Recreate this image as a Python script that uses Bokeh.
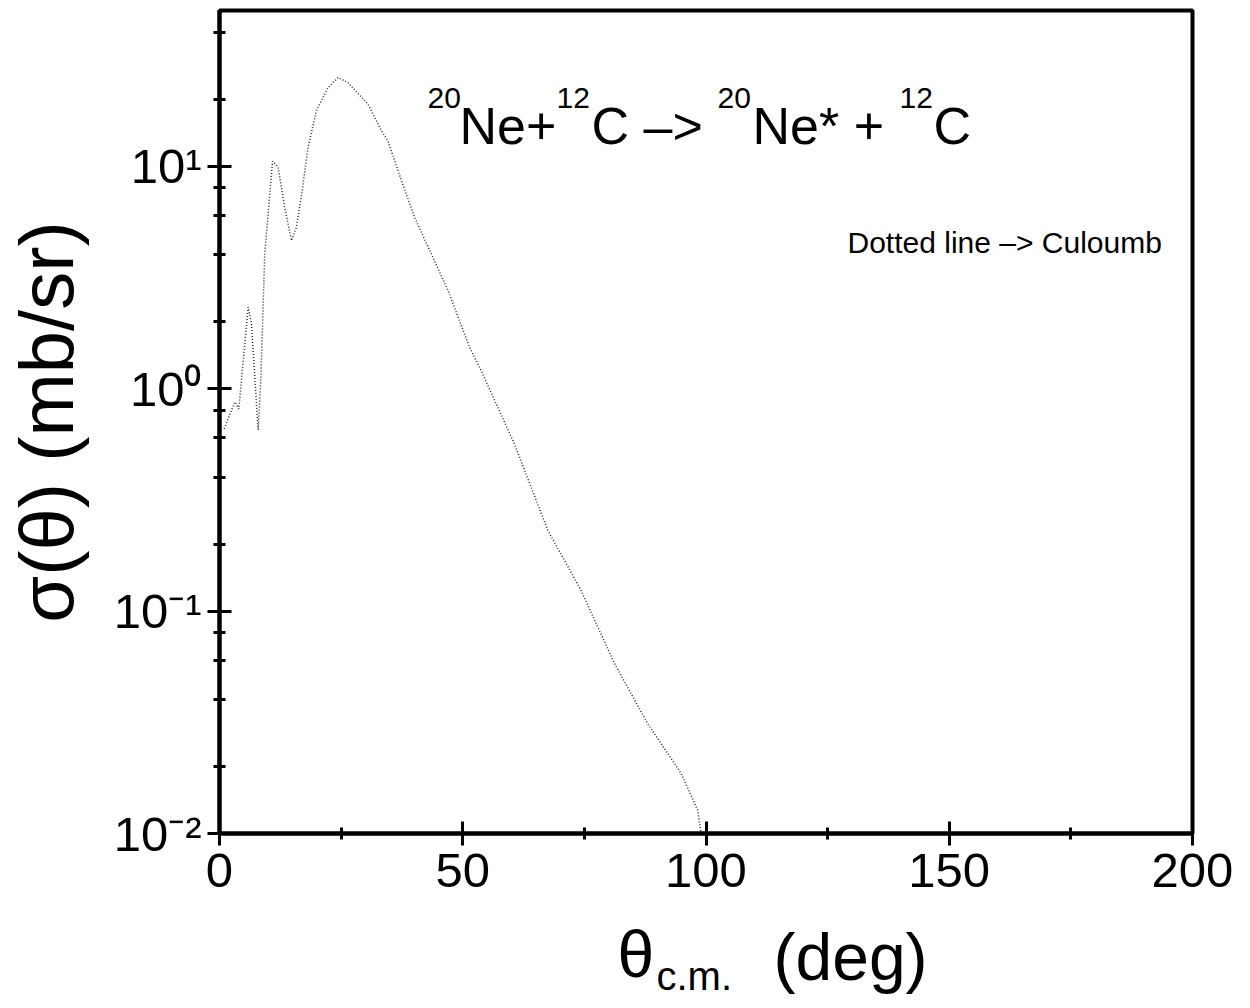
from bokeh.plotting import figure
from bokeh.models import Range1d, FixedTicker, CustomJSTickFormatter, Label
from bokeh.layouts import column
from bokeh.embed import file_html
from bokeh.resources import INLINE

# ---- data ----
theta = [0.96, 3.15, 3.97, 5.89, 6.57, 7.94, 8.49, 9.3, 10.9, 12.05, 13.4, 14.8,
         15.8, 16.8, 18.2, 19.9, 22.3, 24.4, 26.4, 30.5, 33.3, 34.6, 37.4, 40.1,
         47.0, 51.4, 53.8, 60.6, 67.5, 74.3, 81.2, 88.0, 94.9, 98.3, 99.0]
sigma = [0.66, 0.87, 0.81, 2.32, 1.96, 0.65, 1.09, 4.03, 10.5, 9.86, 6.52, 4.62,
         5.3, 7.23, 12.1, 17.7, 22.5, 25.0, 23.7, 19.0, 14.4, 13.0, 8.6, 5.88,
         2.75, 1.53, 1.2, 0.565, 0.23, 0.124, 0.058, 0.0312, 0.0186, 0.0127, 0.01]

x_major = [0, 50, 100, 150, 200]
x_minor = [25, 75, 125, 175]
y_major = [0.01, 0.1, 1, 10]
y_minor = [0.02, 0.04, 0.06, 0.08, 0.2, 0.4, 0.6, 0.8, 2, 4, 6, 8, 20, 40]

FONT = "Liberation Sans"

p = figure(width=1250, height=915, y_axis_type="log",
           x_range=Range1d(0, 200), y_range=Range1d(0.01, 50),
           output_backend="svg", toolbar_location=None,
           min_border_left=218, min_border_right=58,
           min_border_top=10, min_border_bottom=82)
p.background_fill_color = "white"
p.border_fill_color = "white"
p.grid.visible = False
p.outline_line_color = "black"
p.outline_line_width = 4

p.line(theta, sigma, line_dash="1 2", line_width=1.5, line_color="#2a2a2a")

xa = p.xaxis[0]
xa.ticker = FixedTicker(ticks=x_major, minor_ticks=x_minor)
ya = p.yaxis[0]
ya.ticker = FixedTicker(ticks=y_major, minor_ticks=y_minor)
ya.formatter = CustomJSTickFormatter(code="""
const e = Math.round(Math.log10(tick));
const sup = {"-2": "\u207b\u00b2", "-1": "\u207b\u00b9", "0": "\u2070", "1": "\u00b9"};
return "10" + sup[String(e)];
""")

for ax in (xa, ya):
    ax.axis_line_width = 4
    ax.axis_line_color = "black"
    ax.major_tick_line_width = 3
    ax.minor_tick_line_width = 3
    ax.major_tick_in = 12
    ax.major_tick_out = 12
    ax.minor_tick_in = 6
    ax.minor_tick_out = 6
    ax.major_label_text_font = FONT
    ax.major_label_text_font_size = "49px"
    ax.major_label_text_color = "black"

xa.major_label_standoff = 8
ya.major_label_standoff = 6

ya.axis_label = "σ(θ) (mb/sr)"
ya.axis_label_text_font = FONT
ya.axis_label_text_font_size = "76px"
ya.axis_label_text_font_style = "normal"
ya.axis_label_text_color = "black"
ya.axis_label_standoff = 22

# ---- text annotations (screen units relative to each figure's frame) ----
def lab(fig, txt, x, y, size):
    fig.add_layout(Label(x=x, y=y, x_units="screen", y_units="screen", text=txt,
                         text_font=FONT, text_font_size=size, text_color="black",
                         text_baseline="alphabetic", text_align="left"))

# title: 20Ne + 12C -> 20Ne* + 12C
B, S = "52px", "30px"
yb, ys = 708, 736
lab(p, "20", 208, ys, S)
lab(p, "Ne+", 240, yb, B)
lab(p, "12", 337, ys, S)
lab(p, "C –>", 372, yb, B)
lab(p, "20", 498, ys, S)
lab(p, "Ne* +", 533, yb, B)
lab(p, "12", 680, ys, S)
lab(p, "C", 714, yb, B)

lab(p, "Dotted line –> Culoumb", 628, 591, "30px")

# ---- x axis title strip (θ_c.m. (deg)), frame aligned with the main frame ----
q = figure(width=1250, height=93, x_range=p.x_range, y_range=Range1d(0, 1),
           output_backend="svg", toolbar_location=None,
           x_axis_location=None, y_axis_location=None,
           min_border_left=218, min_border_right=58, min_border_top=0,
           min_border_bottom=0)
q.grid.visible = False
q.outline_line_color = None
q.background_fill_color = "white"
q.border_fill_color = "white"
lab(q, "θ", 398, 55, "66px")
lab(q, "c.m.", 437, 33, "40px")
lab(q, "(deg)", 554, 52, "66px")

layout = column(p, q, spacing=0)
open("out.html", "w").write(file_html(layout, INLINE))
